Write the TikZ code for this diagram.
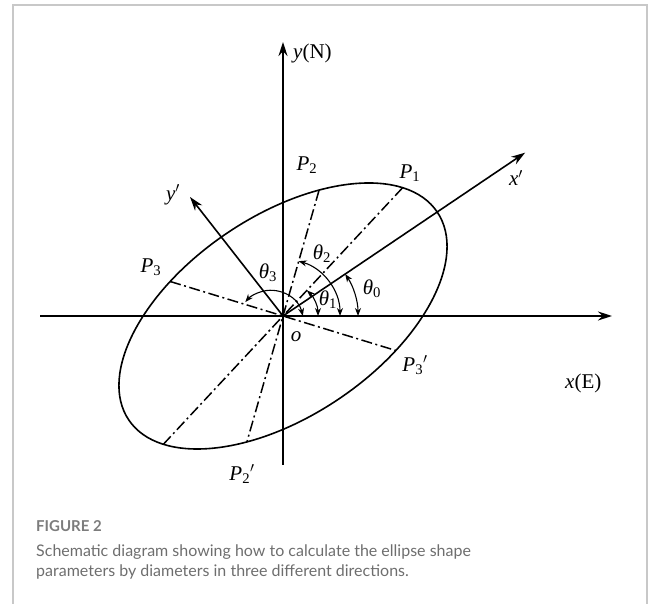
\documentclass[tikz,border=0pt]{standalone}
\usepackage{fontspec}
\setmainfont{Liberation Serif}
\newfontfamily\capfont{Lato}
\usetikzlibrary{arrows.meta}
\definecolor{framegray}{HTML}{C8C8C8}
\definecolor{capgray}{HTML}{6E6E6E}
\newcommand{\sublab}[2]{\textit{#1}\textsubscript{#2}}

\begin{document}
\begin{tikzpicture}[x=1pt,y=1pt,>={Stealth[length=14pt,width=9pt]},
    axis/.style={line width=1.6pt,->},
    diam/.style={line width=1.5pt,dash pattern=on 11pt off 3.5pt on 2pt off 3.5pt},
    ang/.style={line width=1.1pt,{Stealth[length=8pt,width=6pt]}-{Stealth[length=8pt,width=6pt]}},
    lbl/.style={inner sep=0pt,font=\fontsize{21}{25}\selectfont}]
    % Define the tilt of x' and the semi-axes of the ellipse
    \def\tz{34}
    \def\ea{186}
    \def\eb{100}

    \useasboundingbox (0,0) rectangle (656,604);

    % 1) Frame of the figure panel
    \draw[line width=1.5pt,framegray] (13,0) -- (13,599) -- (647,599) -- (647,0);

    % 2) Fixed axes x(E) and y(N)
    \coordinate (o) at (283,288);
    \coordinate (xw) at (40,288);
    \coordinate (xe) at (612,288);
    \coordinate (ys) at (283,139);
    \coordinate (yn) at (283,562);
    \draw[axis] (xw) -- (xe);
    \draw[axis] (ys) -- (yn);

    % 3) Rotated axes x' and y'
    \path (o) ++(\tz:292) coordinate (xp);
    \path (o) ++(128:151) coordinate (yp);
    \draw[axis] (o) -- (xp);
    \draw[axis] (o) -- (yp);

    % 4) The ellipse
    \draw[line width=1.6pt,rotate around={\tz:(o)}] (o) ellipse [x radius=\ea pt,y radius=\eb pt];

    % 5) Three diameters P_i P_i'
    \foreach \a/\n in {47/1,74/2,163/3} {
      \pgfmathsetmacro\r{100/sqrt(cos(\a-\tz)*cos(\a-\tz)/3.4596+sin(\a-\tz)*sin(\a-\tz))}
      \path (o) ++(\a:\r) coordinate (p\n);
      \path (o) ++(\a+180:\r) coordinate (q\n);
      \draw[diam] (p\n) -- (q\n);
    }

    % 6) Angle arcs
    \path (o) ++(75,0) coordinate (a0);
    \draw[ang] (a0) arc[start angle=0,end angle=\tz,radius=75];
    \path (o) ++(35,0) coordinate (a1);
    \draw[ang] (a1) arc[start angle=0,end angle=47,radius=35];
    \path (o) ++(57,0) coordinate (a2);
    \draw[ang] (a2) arc[start angle=0,end angle=74,radius=57];
    \coordinate (c3) at (270.6,280.7);
    \path (c3) ++(12.7:33) coordinate (a3);
    \draw[ang] (a3) arc[start angle=12.7,end angle=140,radius=33];

    % 7) Labels
    \node[lbl,anchor=west] (ylab) at (293,551) {\textit{y}(N)};
    \node[lbl,anchor=west] (xlab) at (565,221) {\textit{x}(E)};
    \node[lbl] (xplab) at (516,426) {\textit{x}$'$};
    \node[lbl] (yplab) at (173,409) {\textit{y}$'$};
    \node[lbl] (olab) at (296,267) {\textit{o}};
    \node[lbl] (p1lab) at (410,431) {\sublab{P}{1}};
    \node[lbl] (p2lab) at (307,439) {\sublab{P}{2}};
    \node[lbl] (p3lab) at (151,337) {\sublab{P}{3}};
    \node[lbl] (q2lab) at (242,130) {\sublab{P}{2}$'$};
    \node[lbl] (q3lab) at (415,239) {\sublab{P}{3}$'$};
    \node[lbl] (t0lab) at (372,315) {\sublab{θ}{0}};
    \node[lbl] (t1lab) at (328,304) {\sublab{θ}{1}};
    \node[lbl] (t2lab) at (322,350) {\sublab{θ}{2}};
    \node[lbl] (t3lab) at (268,331) {\sublab{θ}{3}};

    % 8) Caption
    \node[anchor=base west,inner sep=0pt,text=capgray!90,font=\capfont\bfseries\fontsize{15}{18}\selectfont] (fig) at (36,72) {FIGURE 2};
    \node[anchor=base west,inner sep=0pt,text=capgray,font=\capfont\fontsize{16}{21}\selectfont] (cap1) at (36,47) {Schematic diagram showing how to calculate the ellipse shape};
    \node[anchor=base west,inner sep=0pt,text=capgray,font=\capfont\fontsize{16}{21}\selectfont] (cap2) at (36,27) {parameters by diameters in three different directions.};
\end{tikzpicture}
\end{document}
